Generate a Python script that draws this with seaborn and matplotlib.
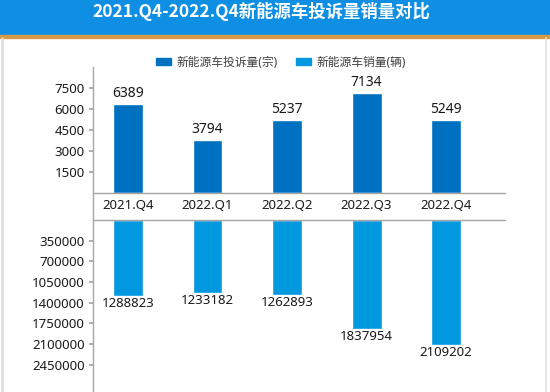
import matplotlib
matplotlib.use("Agg")
import matplotlib.pyplot as plt
import seaborn as sns
import pandas as pd
from matplotlib.patches import Rectangle, Patch
from matplotlib.lines import Line2D

quarters = ["2021.Q4", "2022.Q1", "2022.Q2", "2022.Q3", "2022.Q4"]
complaints = [6389, 3794, 5237, 7134, 5249]
sales = [1288823, 1233182, 1262893, 1837954, 2109202]
top_ticks = [1500, 3000, 4500, 6000, 7500]
bottom_ticks = [350000, 700000, 1050000, 1400000, 1750000, 2100000, 2450000]
title = "2021.Q4-2022.Q4新能源车投诉量销量对比"
label_c = "新能源车投诉量(宗)"
label_s = "新能源车销量(辆)"

sns.set_theme(style="white")
plt.rcParams['font.family'] = ['Noto Sans', 'Noto Sans CJK SC', 'DejaVu Sans']

W, H = 550, 392
fig = plt.figure(figsize=(W / 100, H / 100), dpi=100)
fig.patch.set_facecolor("white")

def fx(px):
    return px / W

def fy(py):
    return 1 - py / H

# banner
fig.patches.append(Rectangle((0, fy(35)), 1, 35 / H, transform=fig.transFigure,
                             color="#0e8fe4", zorder=0))
fig.patches.append(Rectangle((0, fy(38)), 1, 3 / H, transform=fig.transFigure,
                             color="#d99a45", zorder=0))
fig.text(fx(261), fy(11), title, color="white", fontsize=12.5, fontweight="bold",
         ha="center", va="center", family=['Noto Sans CJK SC', 'DejaVu Sans'])
# panel borders
fig.lines.append(Line2D([fx(1.5), fx(1.5)], [0, fy(38)], transform=fig.transFigure,
                        color="#dcdcdc", lw=1.8))
fig.lines.append(Line2D([fx(545.5), fx(545.5)], [0, fy(38)], transform=fig.transFigure,
                        color="#e3e3e3", lw=1.2))

df = pd.DataFrame({"q": quarters, "c": complaints, "s": sales})

xmin, xmax = -0.439, 4.74
c_top = "#0070c0"
c_bot = "#0099e0"
grey = "#a6a6a6"
txt = "#1a1a1a"

# top axes
axt = fig.add_axes([fx(93), fy(193), fx(505 - 93), (193 - 67) / H])
sns.barplot(data=df, x="q", y="c", color=c_top, width=0.376, ax=axt,
            saturation=1, order=quarters)
axt.set_xlim(xmin, xmax)
axt.set_ylim(0, 9000)
axt.set_yticks(top_ticks)
axt.set_yticklabels([str(t) for t in top_ticks])
axt.set_xlabel("")
axt.set_ylabel("")
axt.tick_params(axis="x", length=0, pad=4, labelsize=9.5, labelcolor=txt)
axt.tick_params(axis="y", length=3, color=grey, pad=3, labelsize=9.5,
                labelcolor=txt, left=True)
for sp in ["top", "right"]:
    axt.spines[sp].set_visible(False)
for sp in ["left", "bottom"]:
    axt.spines[sp].set_color(grey)
    axt.spines[sp].set_linewidth(1)
axt.set_facecolor("none")
for i, v in enumerate(complaints):
    axt.annotate(str(v), (i, v), xytext=(0, 2), textcoords="offset points",
                 ha="center", va="bottom", fontsize=10, color=txt)

# bottom axes
axb = fig.add_axes([fx(93), 0, fx(505 - 93), (392 - 220) / H])
sns.barplot(data=df, x="q", y="s", color=c_bot, width=0.376, ax=axb,
            saturation=1, order=quarters)
axb.set_xlim(xmin, xmax)
axb.set_ylim(2.913e6, 0)
axb.set_yticks(bottom_ticks)
axb.set_yticklabels([str(t) for t in bottom_ticks])
axb.set_xticks([])
axb.set_xlabel("")
axb.set_ylabel("")
axb.tick_params(axis="y", length=3, color=grey, pad=3, labelsize=9.5,
                labelcolor=txt, left=True)
for sp in ["bottom", "right"]:
    axb.spines[sp].set_visible(False)
for sp in ["left", "top"]:
    axb.spines[sp].set_color(grey)
    axb.spines[sp].set_linewidth(1)
axb.set_facecolor("none")
for i, v in enumerate(sales):
    axb.annotate(str(v), (i, v), xytext=(0, -1), textcoords="offset points",
                 ha="center", va="top", fontsize=9.5, color=txt)

# connect left spine across gap
fig.lines.append(Line2D([fx(93), fx(93)], [fy(220), fy(193)], transform=fig.transFigure,
                        color=grey, lw=1))

# legend
handles = [Patch(color=c_top, label=label_c), Patch(color=c_bot, label=label_s)]
fig.legend(handles=handles, loc="center", bbox_to_anchor=(fx(281), fy(62)),
           ncol=2, frameon=False, fontsize=8.5, handlelength=1.3, handleheight=0.5,
           columnspacing=1.5, handletextpad=0.5, labelcolor="#404040")

fig.savefig("out.png", dpi=100)
